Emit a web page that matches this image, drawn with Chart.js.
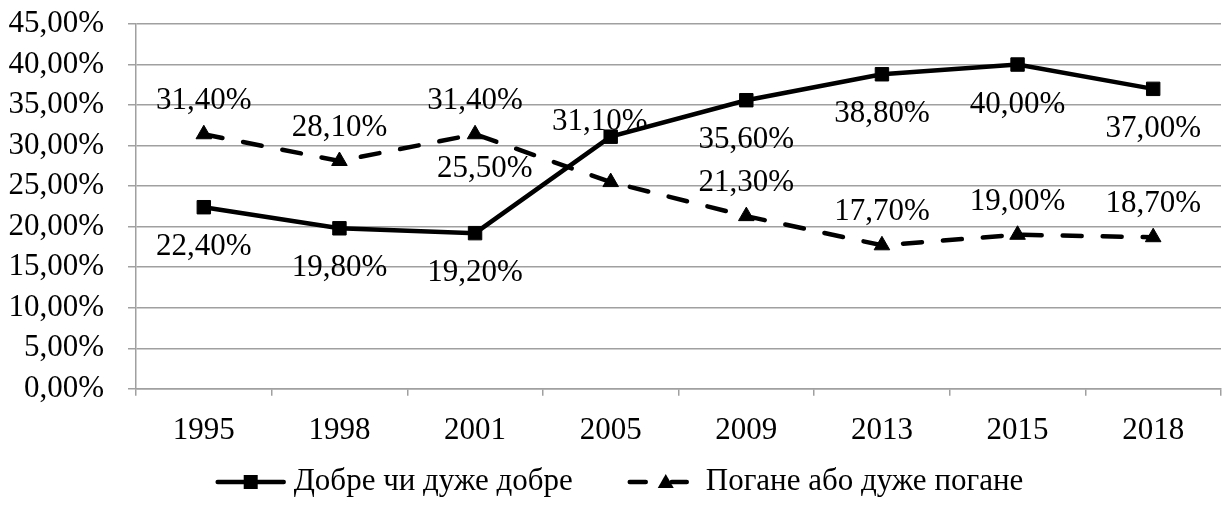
<!DOCTYPE html>
<html lang="uk">
<head>
    <meta charset="UTF-8">
    <title>Оцінка стану здоров'я</title>
    <script src="https://cdn.jsdelivr.net/npm/chart.js"></script>
    <style>
        body { margin: 0; background: #fff; }
        #wrap { width: 1223px; height: 506px; position: relative; }
    </style>
</head>
<body>
    <div id="wrap"><canvas id="myChart"></canvas></div>

    <script>
        // дані
        const years = ["1995", "1998", "2001", "2005", "2009", "2013", "2015", "2018"];
        const goodValues = [22.4, 19.8, 19.2, 31.1, 35.6, 38.8, 40.0, 37.0];
        const badValues = [31.4, 28.1, 31.4, 25.5, 21.3, 17.7, 19.0, 18.7];
        const goodName = "Добре чи дуже добре";
        const badName = "Погане або дуже погане";
        const yTicks = [0, 5, 10, 15, 20, 25, 30, 35, 40, 45];

        // де стоять підписи значень
        const goodLabelPos = ["below", "below", "below", "aboveLeft", "below", "below", "below", "below"];
        const badLabelPos = ["above", "above", "above", "left", "above", "above", "above", "above"];
        const posOffsets = {
            below: [0, 40],
            above: [0, -33],
            left: [-126, -13],
            aboveLeft: [-11, -15]
        };

        const FONT = "'Liberation Serif', 'Times New Roman', serif";
        const FSIZE = 31;
        const GRID = "#a0a0a0";

        function pct(v) {
            return v.toFixed(2).replace(".", ",") + "%";
        }

        const valueLabels = {
            id: "valueLabels",
            afterDatasetsDraw(chart) {
                const ctx = chart.ctx;
                ctx.save();
                ctx.font = FSIZE + "px " + FONT;
                ctx.fillStyle = "#000";
                ctx.textAlign = "center";
                ctx.textBaseline = "middle";
                chart.data.datasets.forEach((ds, i) => {
                    const meta = chart.getDatasetMeta(i);
                    meta.data.forEach((pt, j) => {
                        const off = posOffsets[ds.labelPos[j]];
                        ctx.fillText(pct(ds.data[j]), pt.x + off[0], pt.y + off[1]);
                    });
                });
                ctx.restore();
            }
        };

        // легенда знизу: лінія з маркером і текст
        const bottomLegend = {
            id: "bottomLegend",
            afterDraw(chart) {
                const ctx = chart.ctx;
                const y = 482;
                ctx.save();
                ctx.font = FSIZE + "px " + FONT;
                const w1 = ctx.measureText(goodName).width;
                const w2 = ctx.measureText(badName).width;
                const total = 70 + 8 + w1 + 55 + 61 + 17 + w2;
                let x = chart.width / 2 - total / 2 + 8;

                ctx.strokeStyle = "#000";
                ctx.fillStyle = "#000";
                ctx.lineWidth = 4.5;
                ctx.lineCap = "round";
                ctx.beginPath();
                ctx.moveTo(x + 2, y);
                ctx.lineTo(x + 68, y);
                ctx.stroke();
                ctx.fillRect(x + 35 - 7, y - 7, 14, 14);
                x += 78;
                ctx.textBaseline = "middle";
                ctx.fillText(goodName, x, y);
                x += w1 + 55;

                ctx.beginPath();
                ctx.moveTo(x + 2, y);
                ctx.lineTo(x + 18, y);
                ctx.moveTo(x + 44, y);
                ctx.lineTo(x + 59, y);
                ctx.stroke();
                ctx.beginPath();
                ctx.moveTo(x + 38, y - 8);
                ctx.lineTo(x + 46, y + 6);
                ctx.lineTo(x + 30, y + 6);
                ctx.closePath();
                ctx.fill();
                x += 78;
                ctx.fillText(badName, x, y);
                ctx.restore();
            }
        };

        new Chart(document.getElementById("myChart"), {
            type: "line",
            data: {
                labels: years,
                datasets: [{
                    label: goodName,
                    data: goodValues,
                    labelPos: goodLabelPos,
                    borderColor: "#000",
                    borderWidth: 4.5,
                    backgroundColor: "#000",
                    pointStyle: "rect",
                    pointRadius: 9.5,
                    pointBorderWidth: 1,
                    pointBackgroundColor: "#000",
                    tension: 0
                }, {
                    label: badName,
                    data: badValues,
                    labelPos: badLabelPos,
                    borderColor: "#000",
                    borderWidth: 4.5,
                    borderDash: [19, 21],
                    borderCapStyle: "round",
                    backgroundColor: "#000",
                    pointStyle: "triangle",
                    pointRadius: 9,
                    pointBorderWidth: 1,
                    pointBackgroundColor: "#000",
                    tension: 0
                }]
            },
            options: {
                responsive: true,
                maintainAspectRatio: false,
                animation: false,
                layout: {
                    autoPadding: false,
                    padding: { top: 24, right: 2, bottom: 41, left: 0 }
                },
                scales: {
                    x: {
                        offset: true,
                        afterFit(scale) {
                            scale.paddingLeft = 0;
                            scale.paddingRight = 0;
                        },
                        grid: {
                            offset: true,
                            drawOnChartArea: false,
                            color: GRID,
                            lineWidth: 1.5,
                            tickLength: 7
                        },
                        border: { color: GRID, width: 1.5 },
                        ticks: {
                            color: "#000",
                            font: { family: FONT, size: FSIZE },
                            padding: 16,
                            maxRotation: 0
                        }
                    },
                    y: {
                        min: 0,
                        max: 45,
                        afterBuildTicks(scale) {
                            scale.ticks = yTicks.map(v => ({ value: v }));
                        },
                        afterFit(scale) {
                            scale.width = 136;
                            scale.paddingTop = 0;
                            scale.paddingBottom = 0;
                        },
                        grid: { color: GRID, lineWidth: 1.5, tickLength: 8 },
                        border: { color: GRID, width: 1.5 },
                        ticks: {
                            autoSkip: false,
                            color: "#000",
                            font: { family: FONT, size: FSIZE },
                            padding: 24,
                            callback: v => pct(v)
                        }
                    }
                },
                plugins: {
                    legend: { display: false },
                    tooltip: { enabled: false }
                }
            },
            plugins: [valueLabels, bottomLegend]
        });
    </script>
</body>
</html>
